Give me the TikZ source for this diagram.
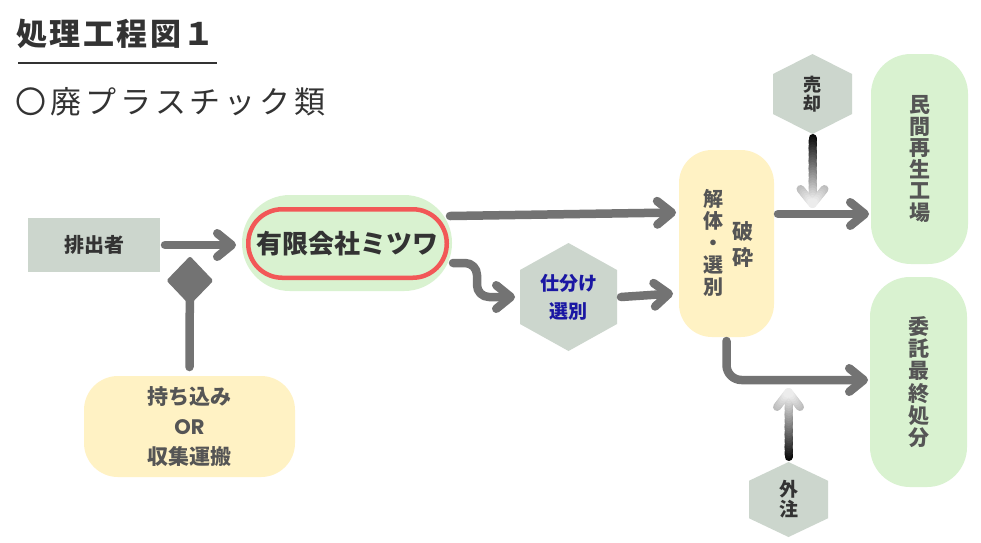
\documentclass[tikz,border=0pt]{standalone}
\usepackage{fontspec}
\newfontfamily\jp{Noto Sans CJK JP}
\newfontfamily\lat{Poppins}
\usetikzlibrary{arrows.meta,calc}
\definecolor{arrgray}{HTML}{737373}
\definecolor{sage}{HTML}{CCD6CD}
\definecolor{mint}{HTML}{D9F2D0}
\definecolor{cream}{HTML}{FFF2C4}
\definecolor{redline}{HTML}{F25757}
\definecolor{txtdark}{HTML}{333333}
\definecolor{txtgray}{HTML}{555555}
\definecolor{navy}{HTML}{1A17A3}
\pgfdeclarelayer{bg}
\pgfsetlayers{bg,main}
\newcommand\tk{\kern2.5pt}
\newcommand\skk{\kern3.8pt}
\newcommand\hexfill[2]{%
  \fill[#2] (#1.north) -- ($(#1.north east)!0.25!(#1.south east)$) -- ($(#1.north east)!0.75!(#1.south east)$) -- (#1.south) -- ($(#1.south west)!0.25!(#1.north west)$) -- ($(#1.south west)!0.75!(#1.north west)$) -- cycle;}
\newcommand\gradarrow[5]{%
  \foreach \i in {0,...,25}{%
    \pgfmathsetmacro\ta{\i/26}%
    \pgfmathsetmacro\tb{(\i+1)/26}%
    \pgfmathsetmacro\pc{92*(1-(\i+0.5)/26)+6}%
    \draw[gseg, draw=black!\pc] ($(#1)!\ta!(#2)$) -- ($(#1)!\tb!(#2)$);
  }
  \foreach \i in {0,...,7}{%
    \pgfmathsetmacro\sa{\i/8}%
    \pgfmathsetmacro\sb{(\i+1)/8}%
    \pgfmathsetmacro\pc{92*(1-(#5-15+15*(\i+0.5)/8)/#5)+6}%
    \draw[gseg, draw=black!\pc] ($(#3)!\sa!(#2)$) -- ($(#3)!\sb!(#2)$);
    \draw[gseg, draw=black!\pc] ($(#4)!\sa!(#2)$) -- ($(#4)!\sb!(#2)$);
  }}
\tikzset{
  box/.style={inner sep=0pt, outer sep=0pt},
  arr/.style={draw=arrgray, line width=8.5pt, line cap=round, line join=round,
    -{Straight Barb[length=14.5pt, width=23.5pt, round]}},
  gseg/.style={line width=8pt, line cap=round},
  vt/.style={box, align=center, text=txtgray},
}
\begin{document}
\begin{tikzpicture}[x=1pt,y=-1pt]
\useasboundingbox (0,0) rectangle (981,542);
% titles
\node[box, anchor=west, font=\jp\bfseries\fontsize{31}{31}\selectfont, text=txtdark] (title) at (16.5,33.5) {処\tk 理\tk 工\tk 程\tk 図\tk １};
\draw[line width=1.5pt, txtdark] (18,63) -- (217,63);
\node[box, anchor=west, font=\jp\fontsize{31}{31}\selectfont, text=txtdark] (subtitle) at (16,101.5) {〇\skk 廃\skk プ\skk ラ\skk ス\skk チ\skk ッ\skk ク\skk 類};
% boxes
\node[box, fill=sage, minimum width=132pt, minimum height=54pt, font=\jp\bfseries\fontsize{20}{20}\selectfont, text=txtdark] (haishutsu) at (94,245) {排出者};
\node[box, fill=cream, rounded corners=34pt, minimum width=211pt, minimum height=101pt, align=center, text=txtgray, font=\jp\bfseries\fontsize{21}{30}\selectfont] (mochi) at (189.5,426.5) {持ち込み\\{\lat\bfseries OR}\\収集運搬};
\node[box, fill=mint, rounded corners=47.9pt, minimum width=210pt, minimum height=96pt] (mitsuwa) at (347,243) {};
\node[box, draw=redline, line width=4.5pt, rounded corners=34pt, minimum width=198.5pt, minimum height=68.5pt, font=\jp\bfseries\fontsize{26}{26}\selectfont, text=txtdark] (mitsuwaname) at (347.5,243.5) {有限会社ミツワ};
\node[box, minimum width=97pt, minimum height=108pt, align=center, text=navy, font=\jp\bfseries\fontsize{19}{28}\selectfont] (shiwake) at (568.5,297) {仕分け\\選別};
\node[box, fill=cream, rounded corners=33pt, minimum width=95pt, minimum height=187pt] (kaitai) at (726.5,243.5) {};
\node[vt, font=\jp\bfseries\fontsize{20}{22}\selectfont] (kaitaiA) at (713,243) {解\\体\\・\\選\\別};
\node[vt, font=\jp\bfseries\fontsize{21}{26}\selectfont] (kaitaiB) at (743,244.5) {破\\砕};
\node[box, minimum width=79pt, minimum height=80pt, align=center, text=txtdark, font=\jp\bfseries\fontsize{18}{18.5}\selectfont] (baikyaku) at (812.5,94) {売\\却};
\node[box, fill=mint, rounded corners=40pt, minimum width=97pt, minimum height=210pt, align=center, text=txtgray, font=\jp\bfseries\fontsize{21}{21.6}\selectfont] (minkan) at (919.5,159) {民\\間\\再\\生\\工\\場};
\node[box, fill=mint, rounded corners=40pt, minimum width=97pt, minimum height=210pt, align=center, text=txtgray, font=\jp\bfseries\fontsize{21}{22.2}\selectfont] (itaku) at (918.5,382) {委\\託\\最\\終\\処\\分};
\node[box, minimum width=79pt, minimum height=75pt, align=center, text=txtdark, font=\jp\bfseries\fontsize{19}{20}\selectfont] (gaichu) at (788.5,499.5) {外\\注};
\begin{pgfonlayer}{bg}
  \fill[white] (0,0) rectangle (981,542);
  \hexfill{shiwake}{sage}
  \hexfill{baikyaku}{sage}
  \hexfill{gaichu}{sage}
\end{pgfonlayer}
% connectors
\draw[arr] ([xshift=5pt]haishutsu.east) -- ([xshift=-6pt]mitsuwa.west |- haishutsu.east);
\coordinate (dtip) at (190,257);
\draw[draw=arrgray, line width=8.5pt, line cap=round, -{Turned Square[length=49pt, width=47pt, line width=4pt, round]}] ([yshift=9pt]mochi.north) -- (dtip);
\draw[arr] ([xshift=-2pt,yshift=27pt]mitsuwa.east) -- ([xshift=-3pt,yshift=31pt]kaitai.west);
\draw[arr, rounded corners=12pt] ([xshift=1pt,yshift=-20pt]mitsuwa.east) -| ([xshift=-43pt]shiwake.west) -- ([xshift=-5pt]shiwake.west);
\draw[arr] ([xshift=4pt]shiwake.east) -- ([xshift=-6pt,yshift=-50pt]kaitai.west);
\draw[arr] ([xshift=4pt,yshift=29.5pt]kaitai.east) -- ([xshift=-2pt]minkan.west |- 0,214);
\draw[arr, rounded corners=15pt] ([yshift=-4pt]kaitai.south) |- ([xshift=-2pt,yshift=2pt]itaku.west);
% gradient arrows
\coordinate (gS1) at ([yshift=-4pt]baikyaku.south);
\coordinate (gT1) at ([yshift=-70pt]baikyaku.south);
\coordinate (gA1) at ([xshift=-12pt,yshift=15pt]gT1);
\coordinate (gB1) at ([xshift=12pt,yshift=15pt]gT1);
\gradarrow{gS1}{gT1}{gA1}{gB1}{66}
\coordinate (gS2) at ([yshift=5pt]gaichu.north);
\coordinate (gT2) at ([yshift=70pt]gaichu.north);
\coordinate (gA2) at ([xshift=-11.5pt,yshift=-15pt]gT2);
\coordinate (gB2) at ([xshift=11.5pt,yshift=-15pt]gT2);
\gradarrow{gS2}{gT2}{gA2}{gB2}{65}
\end{tikzpicture}
\end{document}
